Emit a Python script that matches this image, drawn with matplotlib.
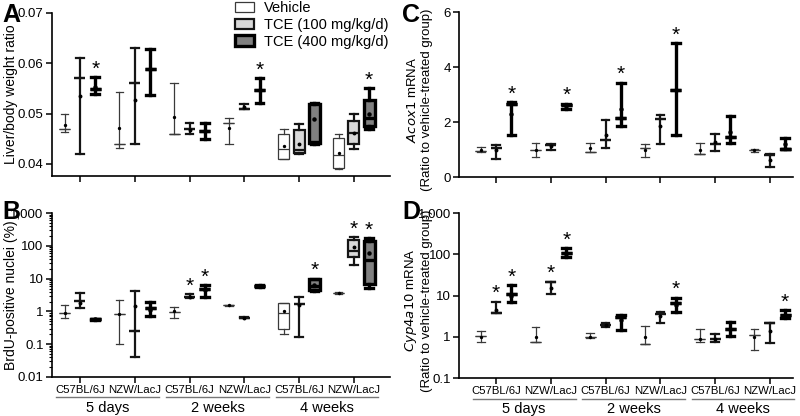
import numpy as np
import matplotlib.pyplot as plt
from matplotlib.patches import Patch
from matplotlib.ticker import FixedLocator, LogLocator, NullFormatter
from matplotlib.transforms import blended_transform_factory

plt.rcParams['font.family'] = ['Liberation Sans', 'DejaVu Sans']

strains = ['C57BL/6J', 'NZW/LacJ', 'C57BL/6J', 'NZW/LacJ', 'C57BL/6J', 'NZW/LacJ']
times = ['5 days', '2 weeks', '4 weeks']
treatments = ['Vehicle', 'TCE (100 mg/kg/d)', 'TCE (400 mg/kg/d)']

# each group: (min, q1, median, q3, max, mean)
# A - liver/body weight ratio
a_veh = [(0.0463, 0.047, 0.047, 0.047, 0.050, 0.0477),
         (0.0431, 0.044, 0.044, 0.044, 0.0542, 0.0471),
         (0.046, 0.046, 0.046, 0.046, 0.056, 0.0493),
         (0.044, 0.0481, 0.0481, 0.0481, 0.0491, 0.0471),
         (0.041, 0.041, 0.043, 0.0459, 0.047, 0.0435),
         (0.039, 0.0391, 0.0417, 0.0452, 0.0459, 0.0421)]
a_100 = [(0.042, 0.057, 0.057, 0.057, 0.061, 0.0534),
         (0.044, 0.0561, 0.0561, 0.0561, 0.0631, 0.0527),
         (0.046, 0.0469, 0.0469, 0.0469, 0.0481, 0.0468),
         (0.051, 0.051, 0.051, 0.051, 0.0519, 0.0513),
         (0.042, 0.0421, 0.0428, 0.0467, 0.048, 0.044),
         (0.043, 0.044, 0.0461, 0.0485, 0.050, 0.0461)]
a_400 = [(0.0539, 0.0549, 0.0549, 0.0549, 0.0572, 0.0552),
         (0.0537, 0.0589, 0.0589, 0.0589, 0.0628, 0.0589),
         (0.045, 0.0466, 0.0466, 0.0466, 0.0481, 0.0466),
         (0.052, 0.0546, 0.0546, 0.0546, 0.057, 0.0546),
         (0.044, 0.0441, 0.0443, 0.0519, 0.0520, 0.049),
         (0.0469, 0.0476, 0.0491, 0.0527, 0.055, 0.0499)]

# B - BrdU-positive nuclei (%)
b_veh = [(0.64, 0.87, 0.87, 0.87, 1.56, 0.87),
         (0.098, 0.85, 0.85, 0.85, 2.2, 0.85),
         (0.65, 0.99, 0.99, 0.99, 1.32, 1.0),
         (1.5, 1.56, 1.56, 1.56, 1.6, 1.56),
         (0.20, 0.30, 0.91, 1.8, 1.8, 1.0),
         (3.5, 3.7, 3.7, 3.7, 3.9, 3.7)]
b_100 = [(1.24, 2.07, 2.07, 2.07, 3.56, 1.8),
         (0.041, 0.25, 0.25, 0.25, 4.3, 1.5),
         (2.5, 2.7, 2.7, 2.7, 3.4, 2.7),
         (0.62, 0.65, 0.65, 0.65, 0.68, 0.65),
         (0.17, 1.68, 1.68, 1.68, 2.8, 1.6),
         (26, 47, 68, 153, 180, 93)]
b_400 = [(0.55, 0.58, 0.58, 0.58, 0.6, 0.58),
         (0.72, 1.24, 1.24, 1.24, 1.98, 1.1),
         (2.8, 4.7, 4.7, 4.7, 6.4, 4.5),
         (5.6, 5.97, 5.97, 5.97, 6.2, 5.97),
         (4.3, 4.5, 6.0, 9.8, 10, 6.5),
         (5.1, 6.7, 37, 140, 172, 62)]

# C - Acox1 mRNA
c_veh = [(0.91, 0.95, 0.95, 0.95, 1.09, 0.97),
         (0.73, 1.0, 1.0, 1.0, 1.24, 1.0),
         (0.90, 0.90, 0.90, 0.90, 1.22, 1.04),
         (0.73, 1.06, 1.06, 1.06, 1.19, 0.97),
         (0.85, 0.85, 0.85, 0.85, 1.25, 0.97),
         (0.91, 1.0, 1.0, 1.0, 1.03, 0.97)]
c_100 = [(0.67, 1.06, 1.06, 1.06, 1.18, 0.97),
         (1.0, 1.15, 1.15, 1.15, 1.19, 1.12),
         (1.07, 1.36, 1.36, 1.36, 2.09, 1.52),
         (1.19, 2.1, 2.1, 2.1, 2.25, 1.85),
         (0.94, 1.21, 1.21, 1.21, 1.58, 1.28),
         (0.36, 0.79, 0.79, 0.79, 0.85, 0.63)]
c_400 = [(1.52, 2.65, 2.65, 2.65, 2.73, 2.31),
         (2.49, 2.61, 2.61, 2.61, 2.67, 2.6),
         (1.85, 2.13, 2.13, 2.13, 3.43, 2.49),
         (1.52, 3.18, 3.18, 3.18, 4.86, 3.18),
         (1.24, 1.46, 1.46, 1.46, 2.21, 1.64),
         (1.01, 1.03, 1.03, 1.03, 1.42, 1.19)]

# D - Cyp4a10 mRNA
d_veh = [(0.75, 1.05, 1.05, 1.05, 1.37, 1.0),
         (0.75, 0.75, 0.75, 0.75, 1.74, 1.0),
         (0.94, 1.0, 1.0, 1.0, 1.2, 1.0),
         (0.66, 0.66, 0.66, 0.66, 1.8, 1.0),
         (0.75, 0.87, 0.87, 0.87, 1.58, 0.87),
         (0.49, 1.1, 1.1, 1.1, 1.58, 1.0)]
d_100 = [(3.7, 3.7, 3.7, 3.7, 7.1, 4.5),
         (10.7, 21, 21, 21, 21.7, 15),
         (1.68, 1.9, 1.9, 1.9, 2.18, 1.9),
         (2.18, 3.55, 3.55, 3.55, 3.9, 3.1),
         (0.75, 0.86, 0.86, 0.86, 1.16, 0.86),
         (0.69, 2.1, 2.1, 2.1, 2.1, 1.4)]
d_400 = [(7.1, 10.9, 10.9, 10.9, 18, 10),
         (88, 106, 106, 106, 141, 100),
         (1.45, 2.94, 2.94, 2.94, 3.35, 2.5),
         (4.0, 6.5, 6.5, 6.5, 8.9, 6.0),
         (1.05, 1.58, 1.58, 1.58, 2.3, 1.5),
         (2.8, 3.35, 3.35, 3.35, 4.4, 3.1)]

# significance stars: (group index, treatment index)
a_stars = [(0, 2), (3, 2), (5, 2)]
b_stars = [(2, 1), (2, 2), (4, 2), (5, 1), (5, 2)]
c_stars = [(0, 2), (1, 2), (2, 2), (3, 2)]
d_stars = [(0, 1), (0, 2), (1, 1), (1, 2), (3, 2), (5, 2)]

offsets = [-0.28, 0.0, 0.28]
fills = ['white', '#d9d9d9', '#808080']
edges = ['#3a3a3a', '#151515', 'black']
lws = [0.9, 1.6, 2.4]


def draw_panel(ax, series, stars):
    for t, data in enumerate(series):
        stats = [dict(whislo=lo, q1=q1, med=med, q3=q3, whishi=hi, mean=mn, fliers=[])
                 for lo, q1, med, q3, hi, mn in data]
        pos = np.arange(1, 7) + offsets[t]
        lp = dict(color=edges[t], linewidth=lws[t])
        ax.bxp(stats, positions=pos, widths=0.2, capwidths=0.14, patch_artist=True,
               showmeans=True, manage_ticks=False,
               boxprops=dict(facecolor=fills[t], edgecolor=edges[t], linewidth=lws[t]),
               medianprops=lp, whiskerprops=lp, capprops=lp,
               meanprops=dict(marker='o', markersize=1.4 + t * 0.4,
                              markerfacecolor='black', markeredgecolor='black'))
    for g, t in stars:
        top = series[t][g][4]
        ax.annotate('*', xy=(g + 1 + offsets[t], top), xytext=(0, -1),
                    textcoords='offset points', ha='center', va='bottom', fontsize=15)
    for side in ['top', 'right']:
        ax.spines[side].set_visible(False)
    for side in ['left', 'bottom']:
        ax.spines[side].set_linewidth(1.2)
    ax.tick_params(axis='both', length=4, width=1.1, labelsize=9.5, pad=2)
    ax.set_xticks(np.arange(1, 7))


def group_labels(ax):
    tr = blended_transform_factory(ax.transData, ax.transAxes)
    for i, name in enumerate(times):
        x0 = 1 + 2 * i - 0.43
        x1 = 2 + 2 * i + 0.45
        ax.plot([x0, x1], [-0.125, -0.125], color='#777777', lw=1.0,
                transform=tr, clip_on=False)
        ax.text((x0 + x1) / 2, -0.145, name, transform=tr, ha='center', va='top', fontsize=10.5)


fig = plt.figure(figsize=(8, 4.16), dpi=100)
ax_a = fig.add_axes([0.065, 0.577, 0.4225, 0.392])
ax_b = fig.add_axes([0.065, 0.0938, 0.4225, 0.394])
ax_c = fig.add_axes([0.574, 0.5745, 0.417, 0.3965])
ax_d = fig.add_axes([0.574, 0.0913, 0.417, 0.3967])

# A
draw_panel(ax_a, [a_veh, a_100, a_400], a_stars)
ax_a.set_ylim(0.0376, 0.07)
ax_a.set_xlim(0.49, 6.66)
ax_a.set_yticks([0.04, 0.05, 0.06, 0.07])
ax_a.set_yticklabels(['0.04', '0.05', '0.06', '0.07'])
ax_a.set_xticklabels([])
ax_a.set_ylabel('Liver/body weight ratio', fontsize=10)
ax_a.yaxis.set_label_coords(-0.1, 0.5)

# B
draw_panel(ax_b, [b_veh, b_100, b_400], b_stars)
ax_b.set_yscale('log')
ax_b.set_ylim(0.01, 1000)
ax_b.set_xlim(0.49, 6.66)
ax_b.yaxis.set_major_locator(FixedLocator([0.01, 0.1, 1, 10, 100, 1000]))
ax_b.set_yticklabels(['0.01', '0.1', '1', '10', '100', '1,000'])
ax_b.yaxis.set_minor_locator(LogLocator(base=10, subs=np.arange(2, 10)))
ax_b.yaxis.set_minor_formatter(NullFormatter())
ax_b.tick_params(axis='y', which='minor', length=2, width=0.8)
ax_b.set_xticklabels(strains, fontsize=8.2)
ax_b.set_ylabel('BrdU-positive nuclei (%)', fontsize=10)
ax_b.yaxis.set_label_coords(-0.1, 0.5)
group_labels(ax_b)

# C
draw_panel(ax_c, [c_veh, c_100, c_400], c_stars)
ax_c.set_ylim(0, 6)
ax_c.set_xlim(0.325, 6.42)
ax_c.set_yticks([0, 2, 4, 6])
ax_c.set_xticklabels([])
ax_c.set_ylabel('$\\it{Acox1}$ mRNA\n(Ratio to vehicle-treated group)', fontsize=9.5)
ax_c.yaxis.set_label_coords(-0.08, 0.47)

# D
draw_panel(ax_d, [d_veh, d_100, d_400], d_stars)
ax_d.set_yscale('log')
ax_d.set_ylim(0.1, 1000)
ax_d.set_xlim(0.325, 6.42)
ax_d.yaxis.set_major_locator(FixedLocator([0.1, 1, 10, 100, 1000]))
ax_d.set_yticklabels(['0.1', '1', '10', '100', '1,000'])
ax_d.yaxis.set_minor_formatter(NullFormatter())
ax_d.tick_params(axis='y', which='minor', length=0)
ax_d.set_xticklabels(strains, fontsize=8.2)
ax_d.set_ylabel('$\\it{Cyp4a10}$ mRNA\n(Ratio to vehicle-treated group)', fontsize=9.5)
ax_d.yaxis.set_label_coords(-0.08, 0.47)
group_labels(ax_d)

for lab, x, y in [('A', 0.003, 0.965), ('B', 0.003, 0.49), ('C', 0.503, 0.965), ('D', 0.503, 0.49)]:
    fig.text(x, y, lab, fontsize=18, fontweight='bold', va='center', ha='left')

handles = [Patch(facecolor=fills[i], edgecolor=edges[i], linewidth=lws[i]) for i in range(3)]
fig.legend(handles, treatments, loc='upper left', bbox_to_anchor=(0.286, 1.012),
           frameon=False, fontsize=10.5, handlelength=1.3, handleheight=0.7,
           handletextpad=0.7, labelspacing=0.2, borderaxespad=0)

fig.savefig('out.png', dpi=100)
